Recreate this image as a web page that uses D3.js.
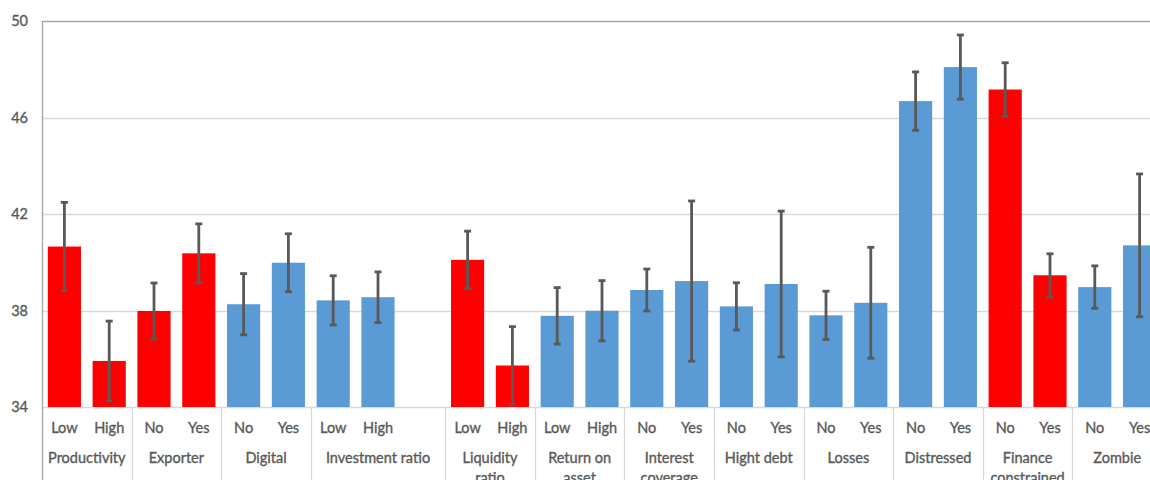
<!DOCTYPE html>
<html>
<head>
<meta charset="utf-8">
<script src="https://cdn.jsdelivr.net/npm/d3@7/dist/d3.min.js"></script>
<style>
  html, body { margin: 0; padding: 0; background: #fff; }
  svg { display: block; }
  text { font-family: Lato, "Open Sans", sans-serif; fill: #595959; stroke: #595959; stroke-width: 0.35px; }
</style>
</head>
<body>
<svg id="chart" width="1150" height="480"></svg>
<script>
// Firm characteristic groups; each label may wrap onto two lines
const groupLabels = [
  ["Productivity"], ["Exporter"], ["Digital"], ["Investment ratio"],
  ["Liquidity", "ratio"], ["Return on", "asset"], ["Interest", "coverage"],
  ["Hight debt"], ["Losses"], ["Distressed"], ["Finance", "constrained"], ["Zombie"]
];
// Number of bar slots in each group (Investment ratio carries a blank slot)
const groupSizes = [2, 2, 2, 3, 2, 2, 2, 2, 2, 2, 2, 2];
// Groups drawn in red
const highlighted = [true, true, false, false, true, false, false, false, false, false, true, false];

// Slot labels, left to right
const slotLabels = ["Low", "High", "No", "Yes", "No", "Yes", "Low", "High", "",
  "Low", "High", "Low", "High", "No", "Yes", "No", "Yes", "No", "Yes",
  "No", "Yes", "No", "Yes", "No", "Yes"];
// Mean value per slot (null = empty slot)
const means = [40.65, 35.91, 37.98, 40.37, 38.26, 39.98, 38.42, 38.55, null,
  40.10, 35.72, 37.78, 37.99, 38.85, 39.22, 38.17, 39.10, 37.80, 38.32,
  46.68, 48.09, 47.16, 39.46, 38.97, 40.70];
// Half-width of the confidence interval per slot
const errors = [1.83, 1.65, 1.16, 1.22, 1.27, 1.20, 1.02, 1.05, null,
  1.19, 1.61, 1.17, 1.25, 0.87, 3.32, 0.98, 3.02, 1.00, 2.30,
  1.21, 1.33, 1.11, 0.89, 0.88, 2.96];
const yTicks = [34, 38, 42, 46, 50];

const svg = d3.select("#chart");
const plotLeft = 42, plotRight = 1162, plotTop = 21, plotBase = 407;

const x = d3.scaleBand()
  .domain(d3.range(slotLabels.length))
  .range([plotLeft, plotRight])
  .paddingInner(0.26)
  .paddingOuter(0.13);
const y = d3.scaleLinear().domain([34, 50]).range([plotBase, plotTop]);

// group index of each slot
const slotGroup = [];
groupSizes.forEach((n, g) => { for (let i = 0; i < n; i++) slotGroup.push(g); });
const groupStart = [];
let acc = 0;
groupSizes.forEach(n => { groupStart.push(acc); acc += n; });

const slotX0 = i => plotLeft + i * x.step();

// horizontal gridlines
svg.append("g").selectAll("line")
  .data(yTicks)
  .join("line")
  .attr("x1", plotLeft).attr("x2", plotRight)
  .attr("y1", d => Math.round(y(d)) + 0.5).attr("y2", d => Math.round(y(d)) + 0.5)
  .attr("stroke", d => d === 50 ? "#a6a6a6" : "#d9d9d9")
  .attr("stroke-width", 1.3);

// y tick labels
svg.append("g").selectAll("text")
  .data(yTicks)
  .join("text")
  .attr("x", 28)
  .attr("y", d => y(d))
  .attr("dy", "0.35em")
  .attr("text-anchor", "end")
  .style("font-size", "14.5px")
  .text(d => d);

// group separators below the baseline
svg.append("g").selectAll("line")
  .data(groupStart.slice(1).concat([acc]))
  .join("line")
  .attr("x1", d => Math.round(slotX0(d)) + 0.5).attr("x2", d => Math.round(slotX0(d)) + 0.5)
  .attr("y1", plotBase).attr("y2", 480)
  .attr("stroke", "#d9d9d9")
  .attr("stroke-width", 1.3);

// bars
const bars = d3.range(slotLabels.length).filter(i => means[i] !== null);
svg.append("g").selectAll("rect")
  .data(bars)
  .join("rect")
  .attr("x", i => x(i))
  .attr("width", x.bandwidth())
  .attr("y", i => y(means[i]))
  .attr("height", i => y(34) - y(means[i]))
  .attr("fill", i => highlighted[slotGroup[i]] ? "#ff0000" : "#5b9bd5");

// error bars
const eb = svg.append("g").attr("stroke", "#595959").attr("stroke-width", 2.8);
bars.forEach(i => {
  const cx = x(i) + x.bandwidth() / 2;
  const hi = y(means[i] + errors[i]);
  const lo = y(means[i] - errors[i]);
  eb.append("line").attr("x1", cx).attr("x2", cx).attr("y1", hi).attr("y2", lo);
  eb.append("line").attr("x1", cx - 3.5).attr("x2", cx + 3.5).attr("y1", hi).attr("y2", hi);
  eb.append("line").attr("x1", cx - 3.5).attr("x2", cx + 3.5).attr("y1", lo).attr("y2", lo);
});

// left axis line
svg.append("line")
  .attr("x1", plotLeft + 0.5).attr("x2", plotLeft + 0.5)
  .attr("y1", plotTop).attr("y2", 480)
  .attr("stroke", "#a6a6a6").attr("stroke-width", 1.3);

// slot labels
svg.append("g").selectAll("text")
  .data(d3.range(slotLabels.length))
  .join("text")
  .attr("x", i => x(i) + x.bandwidth() / 2)
  .attr("y", 428)
  .attr("dy", "0.35em")
  .attr("text-anchor", "middle")
  .style("font-size", "14.5px")
  .text(i => slotLabels[i]);

// group labels
const gl = svg.append("g").selectAll("text")
  .data(groupLabels.map((lines, g) => ({ lines, g })))
  .join("text")
  .attr("x", d => slotX0(groupStart[d.g]) + groupSizes[d.g] * x.step() / 2)
  .attr("y", 458)
  .attr("text-anchor", "middle")
  .style("font-size", "14.5px");
gl.selectAll("tspan")
  .data(d => d.lines.map(t => ({ t, x: slotX0(groupStart[d.g]) + groupSizes[d.g] * x.step() / 2 })))
  .join("tspan")
  .attr("x", d => d.x)
  .attr("dy", (d, k) => k === 0 ? "0.35em" : "20px")
  .text(d => d.t);
</script>
</body>
</html>
